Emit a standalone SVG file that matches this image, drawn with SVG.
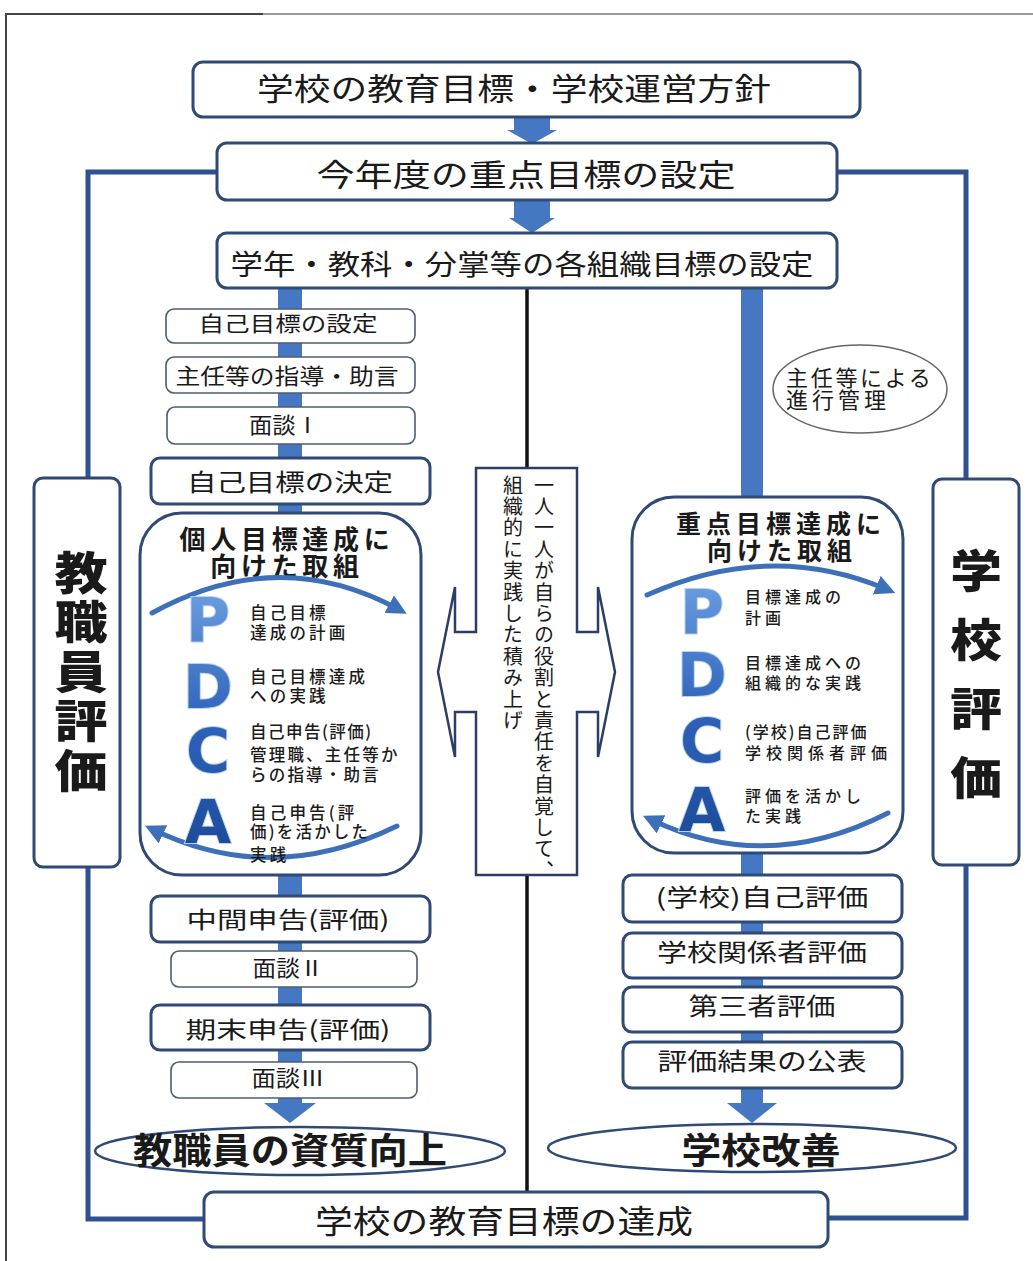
<svg xmlns="http://www.w3.org/2000/svg" width="1033" height="1261" viewBox="0 0 1033 1261">
<defs>
<style>
.jp{font-family:"Noto Sans CJK JP","Noto Sans CJK SC",sans-serif;fill:#1a1a1a}
.bx{fill:#fff;stroke:#2f4a74;stroke-width:3}
.tn{fill:#fff;stroke:#4d5d74;stroke-width:1.6}
.bar{fill:#4677c2}
.fr{fill:none;stroke:#2f5190;stroke-width:5}
.arc{fill:none;stroke:#3d70b8;stroke-width:5;stroke-linecap:round}
.L{font-family:"DejaVu Sans",sans-serif;font-weight:bold;font-size:60px;fill:url(#lg);stroke:#b8d2f2;stroke-width:2;paint-order:stroke;text-anchor:middle}
.s{font-size:16.5px;letter-spacing:3.2px;font-weight:500}
.r{font-size:16px;letter-spacing:4px;font-weight:500}
.big{font-size:45px;font-weight:900;writing-mode:vertical-rl}
</style>
<linearGradient id="lg" x1="0" y1="0" x2="0" y2="1">
<stop offset="0" stop-color="#6d9fe2"/>
<stop offset="0.5" stop-color="#2f63b9"/>
<stop offset="1" stop-color="#1c4a98"/>
</linearGradient>
<marker id="ah" viewBox="0 0 10 10" refX="5" refY="5" markerWidth="4" markerHeight="4" orient="auto">
<path d="M0,0 L10,5 L0,10 z" fill="#3d70b8"/>
</marker>
</defs>
<rect width="1033" height="1261" fill="#fff"/>
<path d="M6,1261 V14 H263" fill="none" stroke="#444" stroke-width="2"/>
<path d="M263,14 H1033" fill="none" stroke="#9a9a9a" stroke-width="2"/>

<g id="connectors">
<path class="fr" d="M217,172 H88 V1219 H204"/>
<path class="fr" d="M837,172 H966 V1218 H828"/>
<polygon class="bar" points="514,115 550,115 550,130 557,130 532,144 507,130 514,130"/>
<polygon class="bar" points="514,198 550,198 550,218 555,218 532,233 509,218 514,218"/>
<polygon class="bar" points="278,286 302,286 302,1103 316,1103 290,1123 264,1103 278,1103"/>
<polygon class="bar" points="741,286 763,286 763,1103 777,1103 752,1123 727,1103 741,1103"/>
<path d="M527,286 V470 M527,873 V1192" stroke="#111" stroke-width="3.5" fill="none"/>
</g>

<g id="n-top">
<rect class="bx" x="193" y="62" width="667" height="55" rx="10" stroke="#283c5c"/>
<text class="jp" x="514" y="100" font-size="31" text-anchor="middle" textLength="514" lengthAdjust="spacingAndGlyphs">学校の教育目標・学校運営方針</text>
</g>
<g id="n-focus">
<rect class="bx" x="217" y="143" width="620" height="57" rx="10" stroke="#47699a"/>
<text class="jp" x="526" y="186" font-size="31" text-anchor="middle" textLength="419" lengthAdjust="spacingAndGlyphs">今年度の重点目標の設定</text>
</g>
<g id="n-org">
<rect class="bx" x="217" y="233" width="620" height="55" rx="10" stroke="#47699a"/>
<text class="jp" x="522" y="275" font-size="28" text-anchor="middle" textLength="583" lengthAdjust="spacingAndGlyphs">学年・教科・分掌等の各組織目標の設定</text>
</g>

<g id="n-staff-eval">
<rect class="bx" x="34" y="478" width="86" height="389" rx="9"/>
<text class="jp big" transform="translate(81,0) scale(1.18,1)" x="0" y="550" letter-spacing="4.5">教職員評価</text>
</g>
<g id="n-school-eval">
<rect class="bx" x="933" y="479" width="86" height="386" rx="9"/>
<text class="jp big" transform="translate(976,0) scale(1.15,1)" x="0" y="548" letter-spacing="24">学校評価</text>
</g>

<g id="n-self-set">
<rect class="tn" x="166" y="309" width="249" height="34" rx="8"/>
<text class="jp" x="288" y="331" font-size="21" text-anchor="middle" textLength="179" lengthAdjust="spacingAndGlyphs">自己目標の設定</text>
</g>
<g id="n-advice">
<rect class="tn" x="166" y="357" width="249" height="36" rx="8"/>
<text class="jp" x="287" y="384" font-size="22" text-anchor="middle" textLength="223" lengthAdjust="spacingAndGlyphs">主任等の指導・助言</text>
</g>
<g id="n-interview1">
<rect class="tn" x="167" y="407" width="248" height="37" rx="8"/>
<text class="jp" x="284" y="433" font-size="22" text-anchor="middle" textLength="70" lengthAdjust="spacingAndGlyphs">面談Ⅰ</text>
</g>
<g id="n-self-decide">
<rect class="bx" x="151" y="458" width="279" height="46" rx="9"/>
<text class="jp" x="290" y="491" font-size="24" text-anchor="middle" textLength="206" lengthAdjust="spacingAndGlyphs">自己目標の決定</text>
</g>

<g id="n-pdca-personal">
<rect class="bx" x="140" y="513" width="281" height="362" rx="42"/>
<text class="jp" font-size="26" font-weight="bold" text-anchor="middle" letter-spacing="4.7"><tspan x="287" y="549">個人目標達成に</tspan><tspan x="287" y="576">向けた取組</tspan></text>
<path class="arc" d="M152,613 Q278,544 398,609" marker-end="url(#ah)"/>
<path class="arc" d="M397,826 Q272,887 154,830" marker-end="url(#ah)"/>
<text class="L"><tspan x="208" y="641">P</tspan><tspan x="208" y="708">D</tspan><tspan x="208" y="772">C</tspan><tspan x="208" y="843">A</tspan></text>
<text class="jp s"><tspan x="250" y="619">自己目標</tspan><tspan x="250" y="639">達成の計画</tspan><tspan x="250" y="683">自己目標達成</tspan><tspan x="250" y="702">への実践</tspan><tspan x="250" y="738" letter-spacing="1.5">自己申告(評価)</tspan><tspan x="250" y="761" letter-spacing="2.2">管理職、主任等か</tspan><tspan x="250" y="781" letter-spacing="2.2">らの指導・助言</tspan><tspan x="250" y="819">自己申告(評</tspan><tspan x="250" y="838" letter-spacing="2.2">価)を活かした</tspan><tspan x="250" y="861">実践</tspan></text>
</g>

<g id="n-mid">
<rect class="bx" x="151" y="896" width="279" height="46" rx="9"/>
<text class="jp" x="288" y="928" font-size="23" text-anchor="middle" textLength="203" lengthAdjust="spacingAndGlyphs">中間申告(評価)</text>
</g>
<g id="n-interview2">
<rect class="tn" x="171" y="951" width="246" height="36" rx="8"/>
<text class="jp" x="288" y="976" font-size="22" text-anchor="middle" textLength="71" lengthAdjust="spacingAndGlyphs">面談Ⅱ</text>
</g>
<g id="n-final">
<rect class="bx" x="151" y="1005" width="279" height="45" rx="9"/>
<text class="jp" x="288" y="1038" font-size="23" text-anchor="middle" textLength="205" lengthAdjust="spacingAndGlyphs">期末申告(評価)</text>
</g>
<g id="n-interview3">
<rect class="tn" x="171" y="1062" width="246" height="36" rx="8"/>
<text class="jp" x="288" y="1086" font-size="22" text-anchor="middle" textLength="73" lengthAdjust="spacingAndGlyphs">面談Ⅲ</text>
</g>
<g id="n-quality">
<ellipse cx="300" cy="1151" rx="205" ry="24" fill="#fff" stroke="#2f4a74" stroke-width="2.5"/>
<text class="jp" x="290" y="1164" font-size="36" font-weight="bold" text-anchor="middle" textLength="314" lengthAdjust="spacingAndGlyphs">教職員の資質向上</text>
</g>

<g id="n-center">
<polygon points="476,468 577,468 577,632 598,632 598,587 615,672 598,757 598,712 577,712 577,875 476,875 476,712 455,712 455,757 438,672 455,587 455,632 476,632" fill="#fff" stroke="#2c3e66" stroke-width="2.5"/>
<text class="jp" x="544" y="475" font-size="20" letter-spacing="1.4" style="writing-mode:vertical-rl">一人一人が自らの役割と責任を自覚して、</text>
<text class="jp" x="513" y="475" font-size="20" letter-spacing="1.4" style="writing-mode:vertical-rl">組織的に実践した積み上げ</text>
</g>

<g id="n-progress">
<ellipse cx="860" cy="389" rx="87" ry="44" fill="#fff" stroke="#666" stroke-width="1.5"/>
<text class="jp" font-size="22"><tspan x="786" y="386" letter-spacing="2.7">主任等による</tspan><tspan x="786" y="408" letter-spacing="4">進行管理</tspan></text>
</g>

<g id="n-pdca-school">
<rect class="bx" x="632" y="497" width="271" height="356" rx="42"/>
<text class="jp" font-size="25" font-weight="bold" text-anchor="middle" letter-spacing="5"><tspan x="781" y="533">重点目標達成に</tspan><tspan x="782" y="560">向けた取組</tspan></text>
<path class="arc" d="M647,595 Q770,540 886,589" marker-end="url(#ah)"/>
<path class="arc" d="M888,813 Q767,875 652,820" marker-end="url(#ah)"/>
<text class="L"><tspan x="702" y="633">P</tspan><tspan x="702" y="696">D</tspan><tspan x="702" y="762">C</tspan><tspan x="702" y="831">A</tspan></text>
<text class="jp r"><tspan x="745" y="603">目標達成の</tspan><tspan x="745" y="624">計画</tspan><tspan x="745" y="669">目標達成への</tspan><tspan x="745" y="689">組織的な実践</tspan><tspan x="745" y="738" letter-spacing="2">(学校)自己評価</tspan><tspan x="745" y="759" letter-spacing="5">学校関係者評価</tspan><tspan x="745" y="802">評価を活かし</tspan><tspan x="745" y="822">た実践</tspan></text>
</g>

<g id="n-self-eval">
<rect class="bx" x="623" y="875" width="279" height="47" rx="9"/>
<text class="jp" x="762" y="906" font-size="24" text-anchor="middle" textLength="213" lengthAdjust="spacingAndGlyphs">(学校)自己評価</text>
</g>
<g id="n-stake-eval">
<rect class="bx" x="623" y="933" width="279" height="45" rx="9"/>
<text class="jp" x="762" y="961" font-size="24" text-anchor="middle" textLength="210" lengthAdjust="spacingAndGlyphs">学校関係者評価</text>
</g>
<g id="n-third-eval">
<rect class="bx" x="623" y="987" width="279" height="45" rx="9"/>
<text class="jp" x="762" y="1015" font-size="24" text-anchor="middle" textLength="147" lengthAdjust="spacingAndGlyphs">第三者評価</text>
</g>
<g id="n-publish">
<rect class="bx" x="623" y="1042" width="279" height="46" rx="9"/>
<text class="jp" x="762" y="1070" font-size="24" text-anchor="middle" textLength="209" lengthAdjust="spacingAndGlyphs">評価結果の公表</text>
</g>
<g id="n-improve">
<ellipse cx="752" cy="1148" rx="204" ry="24" fill="#fff" stroke="#2f4a74" stroke-width="2.5"/>
<text class="jp" x="761" y="1164" font-size="36" font-weight="bold" text-anchor="middle" textLength="159" lengthAdjust="spacingAndGlyphs">学校改善</text>
</g>

<g id="n-achieve">
<rect class="bx" x="204" y="1192" width="624" height="55" rx="10" stroke="#47699a"/>
<text class="jp" x="504" y="1233" font-size="32" text-anchor="middle" textLength="378" lengthAdjust="spacingAndGlyphs">学校の教育目標の達成</text>
</g>
</svg>
